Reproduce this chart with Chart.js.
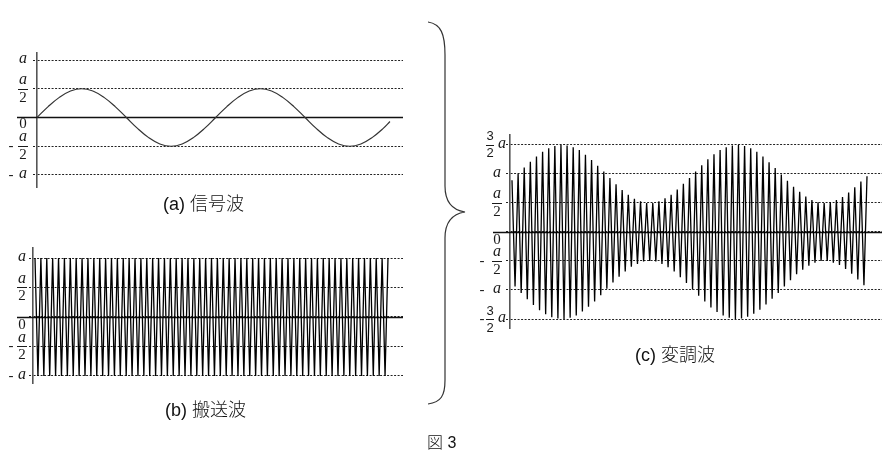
<!DOCTYPE html>
<html>
<head>
<meta charset="utf-8">
<script src="https://cdn.jsdelivr.net/npm/chart.js@4.4.0/dist/chart.umd.min.js"></script>
<style>
  html, body { margin: 0; padding: 0; background: #fff; }
  #wrap { position: relative; width: 895px; height: 452px; overflow: hidden; background: #fff; }
  canvas.layer { position: absolute; left: 0; top: 0; width: 895px; height: 452px; }
  .cap { position: absolute; font-family: "Liberation Sans", "Noto Sans CJK JP", sans-serif; font-size: 18px; line-height: 18px; color: #111; white-space: nowrap; }
  .cap .cjk { font-family: "Noto Sans CJK JP", sans-serif; font-weight: 300; }
  #fig { font-size: 16px; line-height: 16px; }
  svg { position: absolute; left: 0; top: 0; }
</style>
</head>
<body>
<div id="wrap">
  <canvas id="cA" class="layer" width="895" height="452"></canvas>
  <canvas id="cB" class="layer" width="895" height="452"></canvas>
  <canvas id="cC" class="layer" width="895" height="452"></canvas>
  <svg width="895" height="452">
    <path d="M428,22 C441,24 445,34 445,55 L445,186 C445,202 452,210 465,212 C452,214 445,222 445,238 L445,380 C445,396 441,402 428,404" fill="none" stroke="#333" stroke-width="1.2"/>
  </svg>
  <div class="cap" style="left:163px; top:193px;">(a) <span class="cjk">信号波</span></div>
  <div class="cap" style="left:165px; top:399px;">(b) <span class="cjk">搬送波</span></div>
  <div class="cap" style="left:635px; top:344px;">(c) <span class="cjk">変調波</span></div>
  <div class="cap" id="fig" style="left:427px; top:433px;"><span class="cjk">図</span> 3</div>
</div>
<script>
// ---------- data ----------
// (a) signal wave: time in 1/16 of a signal period, value in units of a
const signalT = [0,1,2,3,4,5,6,7,8,9,10,11,12,13,14,15,16,17,18,19,20,21,22,23,24,25,26,27,28,29,30,31,31.6];
const signalV = [0,0.19,0.35,0.46,0.5,0.46,0.35,0.19,0,-0.19,-0.35,-0.46,-0.5,-0.46,-0.35,-0.19,
                 0,0.19,0.35,0.46,0.5,0.46,0.35,0.19,0,-0.19,-0.35,-0.46,-0.5,-0.46,-0.35,-0.19,-0.07];

// (b) carrier wave: successive peaks/troughs (half cycles), units of a
const carrierV = [1,-1,1,-1,1,-1,1,-1,1,-1,1,-1,1,-1,1,-1,1,-1,1,-1,
                  1,-1,1,-1,1,-1,1,-1,1,-1,1,-1,1,-1,1,-1,1,-1,1,-1,
                  1,-1,1,-1,1,-1,1,-1,1,-1,1,-1,1,-1,1,-1,1,-1,1,-1,
                  1,-1,1,-1,1,-1,1,-1,1,-1,1,-1,1,-1,1,-1,1,-1,1,-1,
                  1,-1,1,-1,1,-1,1,-1,1,-1,1,-1,1,-1,1,-1,1,-1,1,-1,
                  1,-1,1,-1,1,-1,1,-1,1,-1,1,-1,1,-1,1,-1,1,-1,1,-1,1];

// (c) modulated wave: successive peaks/troughs (half cycles), units of a
const modV = [0.89,-0.94,1.00,-1.05,1.11,-1.16,1.21,-1.26,1.30,-1.35,1.38,-1.42,1.44,-1.47,1.48,-1.49,
              1.50,-1.50,1.49,-1.48,1.46,-1.44,1.41,-1.37,1.33,-1.29,1.24,-1.20,1.14,-1.09,1.04,-0.98,
              0.93,-0.87,0.82,-0.77,0.72,-0.68,0.64,-0.60,0.57,-0.55,0.53,-0.51,0.50,-0.50,0.50,-0.51,
              0.53,-0.55,0.58,-0.61,0.64,-0.68,0.73,-0.78,0.83,-0.88,0.93,-0.99,1.04,-1.10,1.15,-1.20,
              1.25,-1.30,1.34,-1.38,1.41,-1.44,1.46,-1.48,1.49,-1.50,1.50,-1.49,1.48,-1.46,1.44,-1.41,
              1.38,-1.34,1.30,-1.25,1.20,-1.15,1.10,-1.05,0.99,-0.94,0.88,-0.83,0.78,-0.73,0.69,-0.65,
              0.61,-0.58,0.55,-0.53,0.51,-0.50,0.50,-0.50,0.51,-0.53,0.55,-0.57,0.60,-0.64,0.68,-0.72,
              0.77,-0.82,0.87,-0.92,0.96];

// tick values and labels
const ticksAB = [1, 0.5, 0, -0.5, -1];
const labelsAB = ['a', 'a/2', '0', '- a/2', '- a'];
const ticksC = [1.5, 1, 0.5, 0, -0.5, -1, -1.5];
const labelsC = ['3/2 a', 'a', 'a/2', '0', '- a/2', '- a', '- 3/2 a'];

// ---------- drawing helpers ----------
const axisPlugin = {
  id: 'axisDeco',
  beforeDatasetsDraw(chart, args, o) {
    const {ctx, chartArea, scales: {y}} = chart;
    const y0 = Math.round(y.getPixelForValue(0)) + 0.5;
    ctx.save();
    ctx.strokeStyle = '#111';
    ctx.lineWidth = 1.3;
    ctx.beginPath();
    ctx.moveTo(chartArea.left - o.zeroExt, y0);
    ctx.lineTo(chartArea.right, y0);
    ctx.stroke();
    ctx.restore();
  },
  afterDraw(chart, args, o) {
    const {ctx, chartArea, scales: {y}} = chart;
    const L = chartArea.left;
    ctx.save();
    ctx.fillStyle = '#1a1a1a';
    ctx.strokeStyle = '#1a1a1a';
    ctx.textAlign = 'center';
    ctx.textBaseline = 'middle';
    const ital = 'italic 16px "Liberation Serif", serif';
    const serifDigit = '15px "Liberation Serif", serif';
    const sansDigit = '13px "Liberation Sans", sans-serif';
    o.values.forEach((v, i) => {
      let s = o.labels[i];
      const py = y.getPixelForValue(v);
      let neg = false;
      if (s.startsWith('-')) { neg = true; s = s.slice(1).trim(); }
      if (neg) {
        ctx.font = serifDigit;
        ctx.fillText('-', L + o.minusX, py);
      }
      if (s === '0') {
        ctx.font = serifDigit;
        ctx.fillText('0', L + o.cx, py + o.zeroDy);
      } else if (s.indexOf('/') >= 0) {
        const [num, rest] = s.split('/');
        const parts = rest.split(' ');
        const den = parts[0], suf = parts[1];
        const cx = L + (suf ? o.cxFrac2 : o.cx);
        const digitFont = suf ? sansDigit : serifDigit;
        ctx.font = num === 'a' ? ital : digitFont;
        ctx.fillText(num, cx, py - o.fracDy - (num === 'a' ? 1 : 0));
        ctx.font = digitFont;
        ctx.fillText(den, cx, py + o.fracDy + 1);
        ctx.lineWidth = 1;
        ctx.beginPath();
        const hb = suf ? 4 : 5;
        ctx.moveTo(cx - hb, Math.round(py) + 0.5);
        ctx.lineTo(cx + hb, Math.round(py) + 0.5);
        ctx.stroke();
        if (suf) {
          ctx.font = ital;
          ctx.fillText(suf, L + o.sufX, py - 1);
        }
      } else {
        ctx.font = ital;
        ctx.fillText(s, L + o.cx, py - 1);
      }
    });
    ctx.restore();
  }
};

function makeChart(id, points, area, yr, xr, tickVals, tickLabels, line, deco) {
  const TL = 4;
  return new Chart(document.getElementById(id), {
    type: 'line',
    data: {
      datasets: [{
        data: points,
        borderColor: line.color,
        borderWidth: line.width,
        tension: line.tension,
        pointRadius: 0,
        fill: false
      }]
    },
    options: {
      responsive: false,
      animation: false,
      devicePixelRatio: 1,
      events: [],
      parsing: true,
      layout: { padding: { left: area.left - TL, top: area.top, right: 895 - area.right, bottom: 452 - area.bottom } },
      plugins: { legend: { display: false }, tooltip: { enabled: false }, axisDeco: Object.assign({ values: tickVals, labels: tickLabels }, deco) },
      scales: {
        x: { type: 'linear', display: false, min: xr[0], max: xr[1] },
        y: {
          type: 'linear', min: yr[0], max: yr[1],
          afterBuildTicks: (s) => { s.ticks = tickVals.map(v => ({ value: v })); },
          ticks: { display: false },
          grid: { color: '#222', lineWidth: 1, drawTicks: true, tickLength: TL, tickColor: '#222', tickBorderDash: [2, 1.5] },
          border: { display: true, color: '#555', width: 1.6, dash: [2, 1.5] }
        }
      }
    },
    plugins: [axisPlugin]
  });
}

// (a)
makeChart('cA',
  signalT.map((t, i) => ({ x: t, y: signalV[i] })),
  { left: 37, top: 53, right: 403, bottom: 187 },
  [-1.209, 1.122], [0, 32.77],
  ticksAB, labelsAB,
  { color: '#333', width: 1.2, tension: 0.4 },
  { cx: -14, cxFrac2: -14, sufX: 0, minusX: -26, zeroDy: 7, fracDy: 8, zeroExt: 20 });

// (b)
makeChart('cB',
  carrierV.map((v, i) => ({ x: i, y: v })),
  { left: 33, top: 248, right: 403, bottom: 383 },
  [-1.12, 1.17], [-0.68, 125.1],
  ticksAB, labelsAB,
  { color: '#000', width: 1.3, tension: 0 },
  { cx: -11, cxFrac2: -11, sufX: 0, minusX: -22, zeroDy: 8, fracDy: 8, zeroExt: 16 });

// (c)
makeChart('cC',
  modV.map((v, i) => ({ x: i, y: v })),
  { left: 510, top: 135, right: 882, bottom: 328 },
  [-1.655, 1.67], [-0.65, 120.9],
  ticksC, labelsC,
  { color: '#000', width: 1.3, tension: 0 },
  { cx: -13, cxFrac2: -20, sufX: -8, minusX: -28, zeroDy: 8, fracDy: 8, zeroExt: 17 });
</script>
</body>
</html>
